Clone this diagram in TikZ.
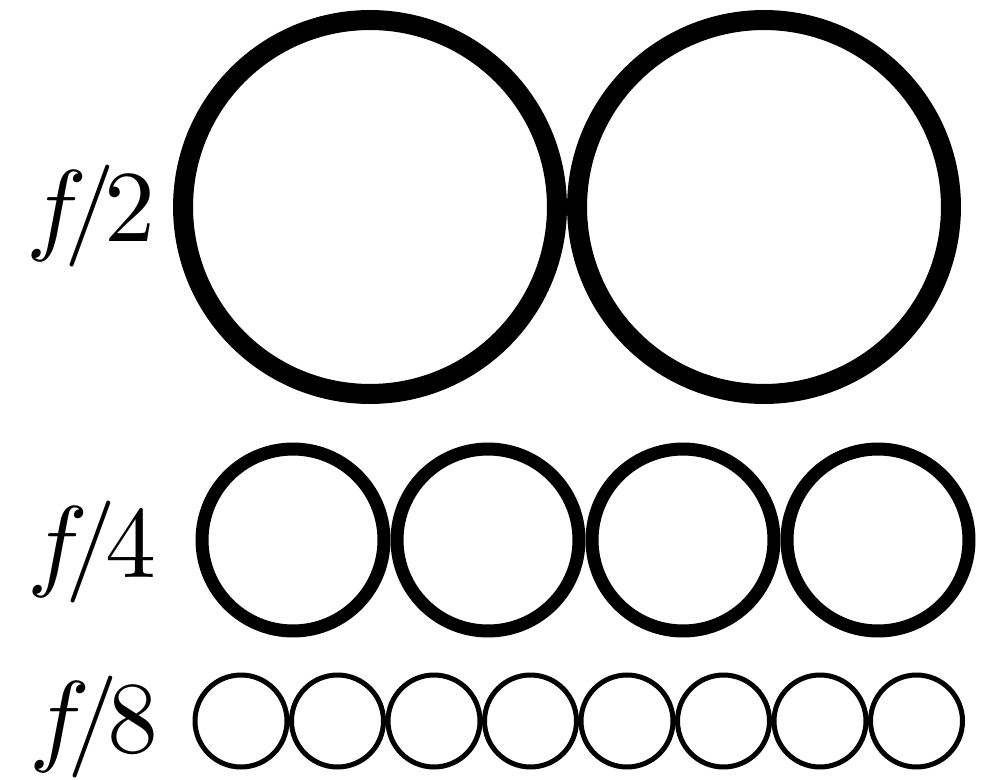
\documentclass[tikz,border=0pt]{standalone}
\usepackage{tikz}
\usetikzlibrary{positioning}

\tikzset{
  ring/.style={draw, circle, inner sep=0pt, outer sep=0pt},
  lbl/.style={anchor=base east, inner sep=0pt, scale=5.8}
}
\newcommand{\frq}[1]{$f\mkern-4mu/\mkern-2mu#1$}

\begin{document}
\begin{tikzpicture}[x=0.02cm, y=-0.02cm]
    \useasboundingbox (0,0) rectangle (986,780);
    % half frequency
    \node[lbl] (half) at (157,242) {\frq{2}};
    \foreach \i in {0,1}
        \node[ring, line width=0.4cm, minimum size=7.48cm] (h\i) at (370+394*\i,207) {};
    % quarter frequency
    \node[lbl] (quarter) at (158,577) {\frq{4}};
    \foreach \i in {0,...,3}
        \node[ring, line width=0.26cm, minimum size=3.64cm] (q\i) at (293+195*\i,540) {};
    % eighth frequency
    \node[lbl] (eighth) at (160,752) {\frq{8}};
    \foreach \i in {0,...,7}
        \node[ring, line width=0.1cm, minimum size=1.84cm] (e\i) at (241+96.5*\i,721) {};
\end{tikzpicture}
\end{document}
